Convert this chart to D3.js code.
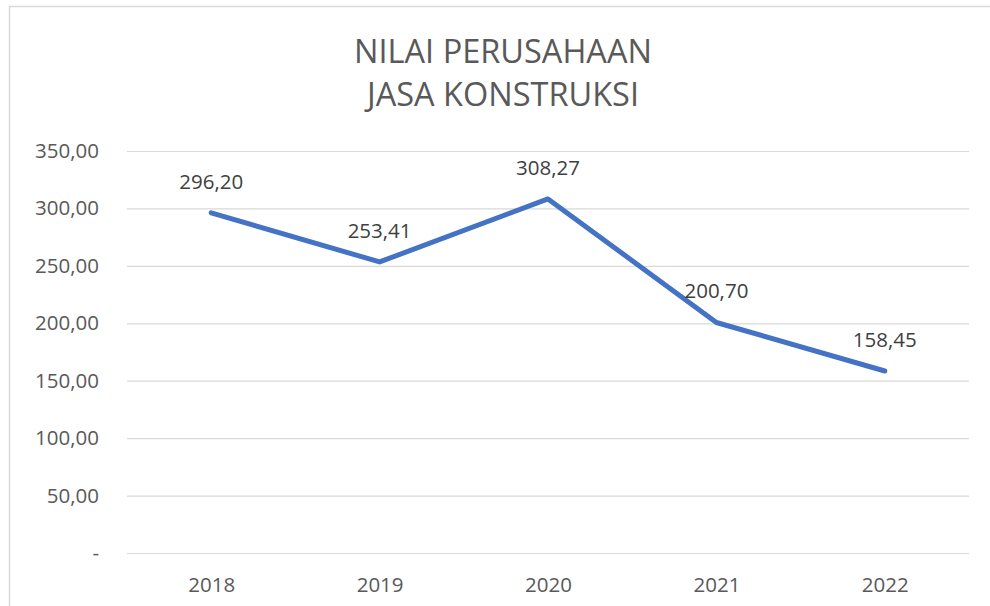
<!DOCTYPE html>
<html><head><meta charset="utf-8">
<script src="https://cdn.jsdelivr.net/npm/d3@7"></script>
<style>body{margin:0;background:#fff}svg{display:block}</style>
</head><body>
<svg id="c" width="990" height="606"></svg>
<script>
const categories = ["2018","2019","2020","2021","2022"];
const values = [296.20, 253.41, 308.27, 200.70, 158.45];
const yTicks = [0, 50, 100, 150, 200, 250, 300, 350];
const titleLines = ["NILAI PERUSAHAAN", "JASA KONSTRUKSI"];

(function () {
const svg = d3.select("#c");
const font = "'Open Sans', sans-serif";
svg.append("rect").attr("x", 9.5).attr("y", 6.5).attr("width", 1000).attr("height", 700)
  .attr("fill", "#fff").attr("stroke", "#d9d9d9").attr("stroke-width", 1.5);

const pLeft = 127, pRight = 969, pTop = 151, pBottom = 553;
const x = d3.scalePoint().domain(categories).range([pLeft, pRight]).padding(0.5);
const y = d3.scaleLinear().domain([0, 350]).range([pBottom, pTop]);
const fmt = v => v === 0 ? "-" : d3.format(".2f")(v).replace(".", ",");

const yAxis = d3.axisLeft(y).tickValues(yTicks).tickSize(-(pRight - pLeft)).tickFormat(fmt).tickPadding(28);
const gy = svg.append("g").attr("transform", `translate(${pLeft},0)`).call(yAxis);
gy.select(".domain").remove();
gy.selectAll(".tick line").attr("stroke", "#d9d9d9").attr("stroke-width", 1.2);
gy.selectAll(".tick text").attr("fill", "#595959").style("font-family", font).style("font-size", "20.5px");

const xAxis = d3.axisBottom(x).tickSize(0).tickPadding(24);
const gx = svg.append("g").attr("transform", `translate(0,${pBottom})`).call(xAxis);
gx.select(".domain").remove();
gx.selectAll(".tick text").attr("fill", "#595959").style("font-family", font).style("font-size", "20.5px");

const line = d3.line().x((d, i) => x(categories[i])).y(d => y(d));
svg.append("path").datum(values).attr("d", line).attr("fill", "none")
  .attr("stroke", "#4472C4").attr("stroke-width", 5).attr("stroke-linecap", "round").attr("stroke-linejoin", "round");

svg.selectAll(".lbl").data(values).enter().append("text")
  .attr("x", (d, i) => x(categories[i]))
  .attr("y", d => y(d) - 24)
  .attr("text-anchor", "middle")
  .attr("fill", "#404040").style("font-family", font).style("font-size", "20.5px")
  .text(d => fmt(d));

svg.selectAll(".title").data(titleLines).enter().append("text")
  .attr("x", 503).attr("y", (d, i) => 63 + i * 43)
  .attr("text-anchor", "middle").attr("fill", "#595959")
  .style("font-family", font).style("font-size", "32.5px")
  .text(d => d);
})();
</script>
</body></html>
